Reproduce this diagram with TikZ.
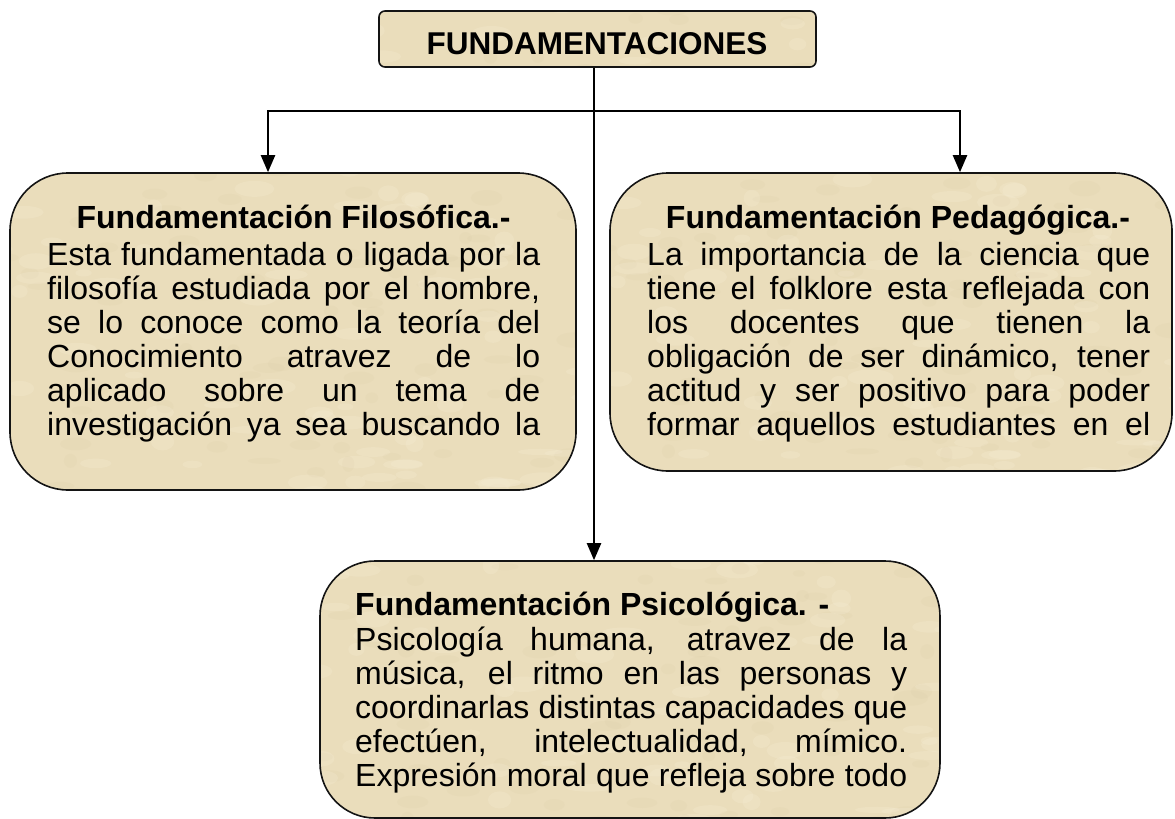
\documentclass[tikz,border=0pt]{standalone}
\usepackage{fontspec}
\setmainfont{Liberation Sans}
\usetikzlibrary{arrows.meta}
\definecolor{parch}{RGB}{234,221,187}
\definecolor{speck}{RGB}{248,240,218}
\definecolor{blot}{RGB}{205,185,145}
\definecolor{edge}{RGB}{20,20,20}
\tikzset{
  box/.style={draw=edge, line width=1.6pt, fill=parch, inner sep=0pt, rounded corners=#1,
    path picture={
      \pgfmathsetseed{11}
      \foreach \k in {1,...,90}{
        \fill[speck, opacity=0.22] ([shift={({rand*320pt},{rand*170pt})}]path picture bounding box.center)
          ellipse [x radius={8pt+16pt*rnd}, y radius={3pt+6pt*rnd}];
        \fill[blot, opacity=0.08] ([shift={({rand*320pt},{rand*170pt})}]path picture bounding box.center)
          ellipse [x radius={6pt+12pt*rnd}, y radius={3pt+5pt*rnd}];
      }
    }},
  box/.default=58pt,
  conn/.style={line width=2.2pt, draw=black},
  arr/.style={conn, -{Triangle[width=14pt,length=17pt]}},
  head/.style={inner sep=0pt, font=\fontsize{32pt}{38pt}\selectfont\bfseries},
  bodyline/.style={inner sep=0pt, anchor=base west, font=\fontsize{32pt}{38pt}\selectfont},
}
\begin{document}
\begin{tikzpicture}[x=1pt,y=-1pt]
\useasboundingbox (0,0) rectangle (1175,819);
% boxes
\node[box=6pt, minimum width=437pt, minimum height=56pt] (top) at (597.5,39) {};
\node[head, anchor=base, font=\fontsize{31.5pt}{36pt}\selectfont\bfseries] (toptxt) at (597,54) {FUNDAMENTACIONES};
\node[box, minimum width=566pt, minimum height=317pt] (left) at (293,331.5) {};
\node[box, minimum width=562pt, minimum height=298pt] (right) at (891,322) {};
\node[box=55pt, minimum width=620pt, minimum height=257pt] (bot) at (630,689.5) {};
% connectors
\coordinate (tb) at ([xshift=-3.5pt]top.south);
\coordinate (j) at (tb |- 0,111);
\draw[arr] (tb) -- (tb |- bot.north);
\draw[arr] (j) -| ([xshift=-25pt]left.north);
\draw[arr] (j) -| ([xshift=69pt]right.north);
% left text
\node[head, anchor=base] (lh) at (293.5,228) {Fundamentación Filosófica.-};
\foreach \t [count=\i] in {
  {Esta fundamentada o ligada por la},
  {filosofía estudiada por el hombre,},
  {se lo conoce como la teoría del},
  {Conocimiento atravez de lo},
  {aplicado sobre un tema de},
  {investigación ya sea buscando la}}
  \node[bodyline] (l\i) at (47,{265+34*(\i-1)}) {\makebox[493pt][s]{\t}};
% right text
\node[head, anchor=base] (rh) at (898,228) {Fundamentación Pedagógica.-};
\foreach \t [count=\i] in {
  {La importancia de la ciencia que},
  {tiene el folklore esta reflejada con},
  {los docentes que tienen la},
  {obligación de ser dinámico, tener},
  {actitud y ser positivo para poder},
  {formar aquellos estudiantes en el}}
  \node[bodyline] (r\i) at (647,{265+34*(\i-1)}) {\makebox[503pt][s]{\t}};
% bottom text
\node[head, anchor=base west] (bh) at (355,615) {Fundamentación Psicológica. -};
\foreach \t [count=\i] in {
  {Psicología humana, atravez de la},
  {música, el ritmo en las personas y},
  {coordinarlas distintas capacidades que},
  {efectúen, intelectualidad, mímico.},
  {Expresión moral que refleja sobre todo}}
  \node[bodyline] (b\i) at (355,{650+34*(\i-1)}) {\makebox[552pt][s]{\t}};
\end{tikzpicture}
\end{document}
